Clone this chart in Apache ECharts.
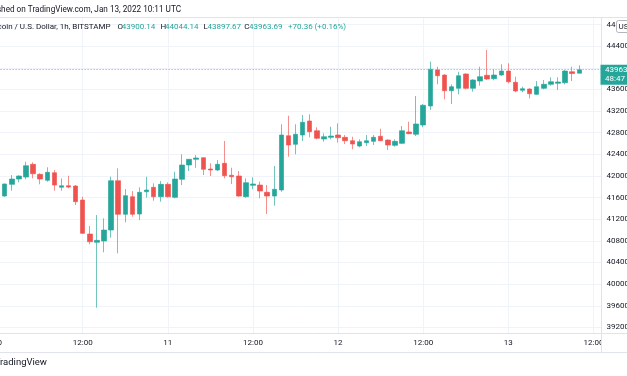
<!DOCTYPE html>
<html><head><meta charset="utf-8">
<script src="https://cdn.jsdelivr.net/npm/echarts@6/dist/echarts.min.js"></script>
<style>html,body{margin:0;padding:0;background:#fff;overflow:hidden}#c{width:627px;height:376px}</style>
</head><body><div id="c"></div>
<script>
// ---- data (hours since Jan 10 00:00 UTC, 1h candles) ----
const hours = [1,2,3,4,5,6,7,8,9,10,11,12,13,14,15,16,17,18,19,20,21,22,23,24,25,26,27,28,29,30,31,32,33,34,35,36,37,38,39,40,41,42,43,44,45,46,47,48,49,50,51,52,53,54,55,56,57,58,59,60,61,62,63,64,65,66,67,68,69,70,71,72,73,74,75,76,77,78,79,80,81,82];
const open  = [41629,41845,41943,41980,42215,42030,41919,42060,41790,41819,41814,41555,40926,40773,40797,41000,41912,41291,41616,41296,41708,41790,41616,41845,41605,41938,42202,42308,42337,42128,42110,42234,42012,41999,41616,41827,41832,41697,41629,41740,42744,42585,42757,43016,42836,42683,42714,42757,42714,42651,42553,42615,42640,42733,42664,42566,42603,42812,42770,42942,43293,43959,43866,43576,43620,43885,43620,43755,43861,43798,43866,43940,43731,43583,43607,43509,43620,43694,43713,43724,43927,43900.14];
const close = [41851,41943,41999,42189,42041,41943,42067,41832,41819,41795,41524,40939,40784,40810,40999,41912,41291,41635,41291,41697,41740,41616,41845,41616,41943,42202,42308,42332,42123,42110,42215,42004,41986,41629,41875,41851,41721,41629,41753,42757,42572,42770,42992,42818,42696,42725,42738,42707,42651,42590,42633,42651,42714,42651,42572,42640,42836,42781,42960,43306,43972,43853,43576,43650,43853,43620,43774,43835,43792,43866,43940,43742,43570,43613,43520,43650,43694,43742,43737,43940,43893.33,43963.69];
const low   = [41616,41727,41882,41938,41956,41845,41893,41727,41727,41771,41463,40926,40736,39564,40588,40858,40570,41143,41246,41185,41598,41542,41524,41600,41586,41832,42091,42152,42017,41999,42091,41956,41851,41616,41598,41753,41586,41296,41450,41708,42356,42400,42646,42714,42677,42633,42677,42615,42590,42492,42529,42553,42572,42646,42480,42540,42590,42775,42738,42899,43219,43694,43417,43330,43509,43602,43558,43668,43774,43768,43853,43713,43546,43546,43435,43496,43602,43668,43589,43694,43755,43897.67];
const high  = [41860,42017,42010,42263,42252,42049,42160,42110,41956,42004,41832,41616,41074,41278,41217,41986,42141,41758,41721,41790,41986,41864,41906,41882,42078,42400,42313,42387,42345,42234,42295,42646,42152,42091,41956,41975,41894,41832,42184,42955,43114,42955,43127,43140,42899,42788,42910,42973,42757,42725,42677,42757,42757,42873,42677,42677,42923,43003,43478,43330,44112,44020,43879,43694,43927,43898,43787,44020,44328,43972,44064,44083,43835,43650,43620,43755,43774,43824,43824,43959,44020,44044.14];
const tickHours  = [0,12,24,36,48,60,72,84];
const tickLabels = ['10','12:00','11','12:00','12','12:00','13','12:00'];
const priceMin = 39200, priceMax = 44800, priceStep = 400;
const symbolName = 'Bitcoin / U.S. Dollar, 1h, BITSTAMP';
const publishedText = 'Published on TradingView.com, Jan 13, 2022 10:11 UTC';
const changeText = '+70.36 (+0.16%)';
const countdown = '48:47';
const currencyText = 'US';
const brandText = 'TradingView';

// ---- chart ----
const UP = '#26a69a', DOWN = '#ef5350', TEXT = '#131722', GRIDC = '#f0f3fa', FRAME = '#e0e3eb';
const FF = 'Roboto, sans-serif';
const xMax = 85.13;
const ohlc = hours.map((h, i) => [h, open[i], close[i], low[i], high[i]]);
const last = hours.length - 1;

const chart = echarts.init(document.getElementById('c'), null, {renderer: 'canvas'});
chart.setOption({
  animation: false,
  backgroundColor: '#ffffff',
  grid: [
    {left: -2.4, right: 25.5, top: 24.5, bottom: 48.6, containLabel: false, outerBoundsMode: 'none', show: false},
    {left: -2.4, right: 25.5, top: 17.5, bottom: 42.5, containLabel: false, outerBoundsMode: 'none', show: false}
  ],
  xAxis: [
    {type: 'value', gridIndex: 0, min: 0, max: xMax, show: false, splitLine: {show: false}},
    {type: 'value', gridIndex: 1, min: 0, max: xMax, interval: 12,
     axisLine: {show: false}, axisTick: {show: false},
     splitLine: {show: true, lineStyle: {color: GRIDC, width: 1}},
     axisLabel: {margin: 5, color: TEXT, fontSize: 8, fontFamily: FF, showMaxLabel: false,
       formatter: v => { const i = tickHours.indexOf(Math.round(v * 100) / 100); return i >= 0 ? tickLabels[i] : ''; }}}
  ],
  yAxis: [
    {type: 'value', gridIndex: 0, position: 'right', min: priceMin, max: priceMax, interval: priceStep, scale: true,
     axisLine: {show: false}, axisTick: {show: false},
     splitLine: {show: true, lineStyle: {color: GRIDC, width: 1}},
     axisLabel: {margin: 5, color: TEXT, fontSize: 8, fontFamily: FF, formatter: v => String(v)}},
    {type: 'value', gridIndex: 1, min: 0, max: 1, show: false, splitLine: {show: false}}
  ],
  series: [{
    type: 'candlestick', xAxisIndex: 0, yAxisIndex: 0, data: ohlc, barWidth: 5,
    itemStyle: {color: UP, color0: DOWN, borderColor: 'rgba(38,166,154,0.65)', borderColor0: 'rgba(239,83,80,0.65)',
                borderColorDoji: 'rgba(38,166,154,0.65)', borderWidth: 1},
    markLine: {silent: true, symbol: ['none', 'none'], label: {show: false},
      lineStyle: {color: '#5cbdb4', type: [1, 2], width: 1, opacity: 1},
      emphasis: {disabled: true}, data: [{yAxis: close[last]}]}
  }]
});

const yLast = chart.convertToPixel({yAxisIndex: 0}, close[last]);
const fmt = v => v.toFixed(2);
const t = (text, x, y, fill, align, size) => ({type: 'text', x: x, y: y, z: 100,
  style: {text: text, fill: fill, font: (size || 8) + 'px ' + FF, align: align || 'left', verticalAlign: 'middle'}});
const ln = (x1, y1, x2, y2) => ({type: 'line', z: 90, shape: {x1, y1, x2, y2}, style: {stroke: FRAME, lineWidth: 1}});
chart.setOption({
  graphic: [
    ln(0, 17.5, 627, 17.5),
    ln(0, 333.5, 627, 333.5),
    ln(0, 352.5, 627, 352.5),
    ln(601.5, 17.5, 601.5, 352.5),
    {type: 'rect', z: 95, shape: {x: 602, y: 334, width: 26, height: 18}, style: {fill: '#ffffff'}},
    t(publishedText, 181, 10, TEXT, 'right', 8.2),
    t(symbolName, 110.5, 27, TEXT, 'right'),
    t('O', 117.5, 27, TEXT), t(fmt(open[last]), 121.7, 27, UP),
    t('H', 160.5, 27, TEXT), t(fmt(high[last]), 165, 27, UP),
    t('L', 203.5, 27, TEXT), t(fmt(low[last]), 207.5, 27, UP),
    t('C', 244.3, 27, TEXT), t(fmt(close[last]), 249, 27, UP),
    t(changeText, 288, 27, UP),
    t(brandText, 47, 363, TEXT, 'right', 9.5),
    {type: 'rect', z: 98, shape: {x: 600.5, y: yLast - 5, width: 30, height: 20}, style: {fill: UP}},
    t(fmt(close[last]), 605, yLast + 0.5, '#ffffff'),
    t(countdown, 605, yLast + 9.5, '#ffffff'),
    {type: 'rect', z: 98, shape: {x: 616.5, y: 20.5, width: 14, height: 12, r: 2}, style: {fill: '#ffffff', stroke: '#b2b5be', lineWidth: 1}},
    t(currencyText, 618.5, 27, TEXT)
  ]
});
</script>
</body></html>
